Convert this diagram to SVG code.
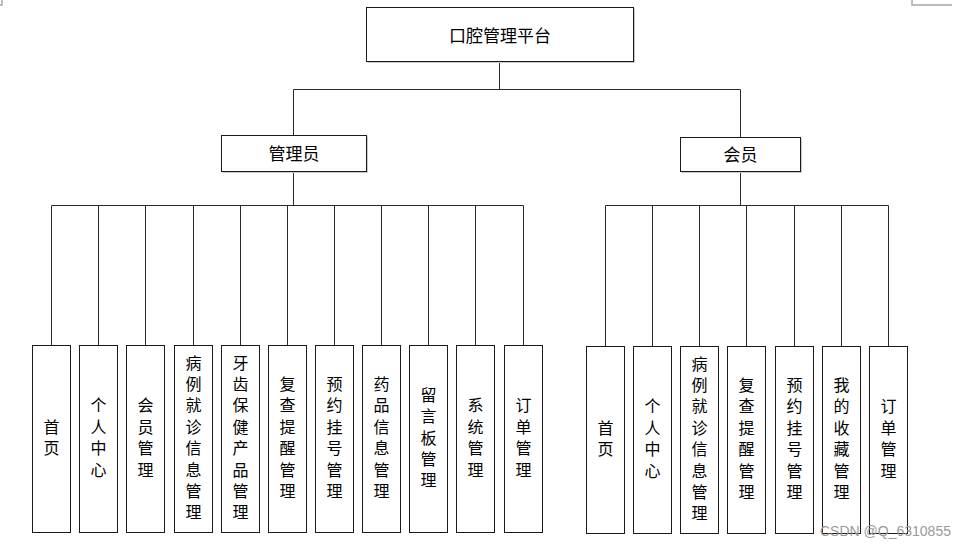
<svg xmlns="http://www.w3.org/2000/svg" width="970" height="549" viewBox="0 0 970 549">
<style>
.bx{fill:#fff;stroke:#1a1a1a;stroke-width:1}
.sh{fill:none;stroke:#c8c8c8;stroke-width:1}
.ln{fill:none;stroke:#2a2a2a;stroke-width:1}
.t{font-family:"Noto Sans CJK SC","Noto Sans",sans-serif;font-size:17px;fill:#000;text-anchor:middle;dominant-baseline:central}
.v{font-family:"Noto Sans CJK SC","Noto Sans",sans-serif;font-size:16px;fill:#000;text-anchor:middle;writing-mode:vertical-rl;letter-spacing:5.4px}
.wm{font-family:"Liberation Sans",Arial,sans-serif;font-size:14px;fill:#9a9a9a}
.cm{fill:none;stroke:#a8a8a8;stroke-width:1.5}
</style>
<rect x="0" y="0" width="970" height="549" fill="#fff"/>
<path class="cm" d="M0 5H2V0M912 0V5H952"/>
<g id="connectors">
<path class="ln" d="M499.5 61.5V89.5M293.5 89.5H740.5M293.5 89.5V135.5M740.5 89.5V137.5"/>
<path class="ln" d="M293.5 171.5V205.5M51.5 205.5H523.5"/>
<path class="ln" d="M51.5 205.5V345.5M98.5 205.5V345.5M145.5 205.5V345.5M193.5 205.5V345.5M240.5 205.5V345.5M287.5 205.5V345.5M334.5 205.5V345.5M381.5 205.5V345.5M428.5 205.5V345.5M475.5 205.5V345.5M523.5 205.5V345.5"/>
<path class="ln" d="M740.5 171.5V205.5M605.5 205.5H888.5"/>
<path class="ln" d="M605.5 205.5V346.5M652.5 205.5V346.5M699.5 205.5V346.5M746.5 205.5V346.5M794.5 205.5V346.5M841.5 205.5V346.5M888.5 205.5V346.5"/>
</g>
<g id="root">
<path class="sh" d="M367.5 62.5H634.5V8.5"/>
<rect class="bx" x="366.5" y="7.5" width="267" height="54"/>
<text class="t" x="500" y="34">口腔管理平台</text>
</g>
<g id="admin">
<path class="sh" d="M222.5 172.5H367.5V136.5"/>
<rect class="bx" x="221.5" y="135.5" width="145" height="36"/>
<text class="t" x="294" y="152">管理员</text>
</g>
<g id="member">
<path class="sh" d="M681.5 172.5H801.5V138.5"/>
<rect class="bx" x="680.5" y="137.5" width="120" height="34"/>
<text class="t" x="740.5" y="153">会员</text>
</g>
<g id="a1"><rect class="bx" x="32.5" y="345.5" width="38" height="187"/><text class="v" x="51.5" y="440.2">首页</text></g>
<g id="a2"><rect class="bx" x="79.5" y="345.5" width="38" height="187"/><text class="v" x="98.5" y="440.2">个人中心</text></g>
<g id="a3"><rect class="bx" x="126.5" y="345.5" width="38" height="187"/><text class="v" x="145.5" y="440.2">会员管理</text></g>
<g id="a4"><rect class="bx" x="174.5" y="345.5" width="38" height="187"/><text class="v" x="193.5" y="440.2">病例就诊信息管理</text></g>
<g id="a5"><rect class="bx" x="221.5" y="345.5" width="38" height="187"/><text class="v" x="240.5" y="440.2">牙齿保健产品管理</text></g>
<g id="a6"><rect class="bx" x="268.5" y="345.5" width="38" height="187"/><text class="v" x="287.5" y="440.2">复查提醒管理</text></g>
<g id="a7"><rect class="bx" x="315.5" y="345.5" width="38" height="187"/><text class="v" x="334.5" y="440.2">预约挂号管理</text></g>
<g id="a8"><rect class="bx" x="362.5" y="345.5" width="38" height="187"/><text class="v" x="381.5" y="440.2">药品信息管理</text></g>
<g id="a9"><rect class="bx" x="409.5" y="345.5" width="38" height="187"/><text class="v" x="428.5" y="440.2">留言板管理</text></g>
<g id="a10"><rect class="bx" x="456.5" y="345.5" width="38" height="187"/><text class="v" x="475.5" y="440.2">系统管理</text></g>
<g id="a11"><rect class="bx" x="504.5" y="345.5" width="38" height="187"/><text class="v" x="523.5" y="440.2">订单管理</text></g>
<g id="m1"><rect class="bx" x="586.5" y="346.5" width="38" height="187"/><text class="v" x="605.5" y="441.2">首页</text></g>
<g id="m2"><rect class="bx" x="633.5" y="346.5" width="38" height="187"/><text class="v" x="652.5" y="441.2">个人中心</text></g>
<g id="m3"><rect class="bx" x="680.5" y="346.5" width="38" height="187"/><text class="v" x="699.5" y="441.2">病例就诊信息管理</text></g>
<g id="m4"><rect class="bx" x="727.5" y="346.5" width="38" height="187"/><text class="v" x="746.5" y="441.2">复查提醒管理</text></g>
<g id="m5"><rect class="bx" x="775.5" y="346.5" width="38" height="187"/><text class="v" x="794.5" y="441.2">预约挂号管理</text></g>
<g id="m6"><rect class="bx" x="822.5" y="346.5" width="38" height="187"/><text class="v" x="841.5" y="441.2">我的收藏管理</text></g>
<g id="m7"><rect class="bx" x="869.5" y="346.5" width="38" height="187"/><text class="v" x="888.5" y="441.2">订单管理</text></g>
<text class="wm" x="820" y="536">CSDN @Q_6310855</text>
</svg>
